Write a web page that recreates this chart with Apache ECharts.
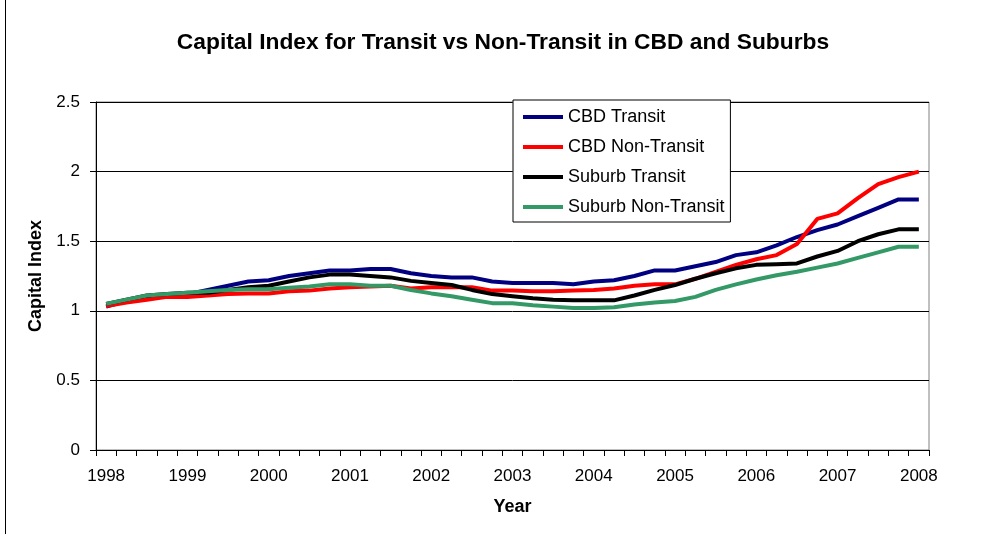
<!DOCTYPE html>
<html>
<head>
<meta charset="utf-8">
<script src="https://cdn.jsdelivr.net/npm/echarts@6/dist/echarts.min.js"></script>
<style>html,body{margin:0;padding:0;background:#fff}#chart{width:990px;height:534px}</style>
</head>
<body>
<div id="chart"></div>
<script>
const quarters = [
 '1998 Q1','1998 Q2','1998 Q3','1998 Q4','1999 Q1','1999 Q2','1999 Q3','1999 Q4',
 '2000 Q1','2000 Q2','2000 Q3','2000 Q4','2001 Q1','2001 Q2','2001 Q3','2001 Q4',
 '2002 Q1','2002 Q2','2002 Q3','2002 Q4','2003 Q1','2003 Q2','2003 Q3','2003 Q4',
 '2004 Q1','2004 Q2','2004 Q3','2004 Q4','2005 Q1','2005 Q2','2005 Q3','2005 Q4',
 '2006 Q1','2006 Q2','2006 Q3','2006 Q4','2007 Q1','2007 Q2','2007 Q3','2007 Q4',
 '2008 Q1'
];
const cbdTransit = [1.03,1.07,1.10,1.11,1.12,1.15,1.18,1.21,1.22,1.25,1.27,1.29,1.29,1.30,1.30,1.27,1.25,1.24,1.24,1.21,1.20,1.20,1.20,1.19,1.21,1.22,1.25,1.29,1.29,1.32,1.35,1.40,1.42,1.47,1.53,1.58,1.62,1.68,1.74,1.80,1.80];
const cbdNonTransit = [1.035,1.06,1.08,1.10,1.10,1.11,1.12,1.125,1.125,1.14,1.145,1.16,1.17,1.175,1.18,1.16,1.17,1.17,1.17,1.145,1.145,1.14,1.14,1.145,1.15,1.16,1.18,1.19,1.19,1.23,1.28,1.33,1.37,1.40,1.48,1.66,1.70,1.81,1.91,1.96,2.00];
const suburbTransit = [1.05,1.08,1.11,1.12,1.13,1.13,1.15,1.17,1.18,1.21,1.24,1.26,1.26,1.25,1.24,1.215,1.20,1.185,1.15,1.12,1.105,1.09,1.08,1.075,1.075,1.075,1.11,1.15,1.185,1.23,1.27,1.305,1.33,1.335,1.34,1.39,1.43,1.50,1.55,1.585,1.585];
const suburbNonTransit = [1.05,1.08,1.11,1.12,1.13,1.14,1.15,1.155,1.155,1.165,1.175,1.19,1.19,1.18,1.18,1.15,1.125,1.105,1.08,1.055,1.055,1.04,1.03,1.02,1.02,1.025,1.045,1.06,1.07,1.10,1.15,1.19,1.225,1.255,1.28,1.31,1.34,1.38,1.42,1.46,1.46];
const seriesNames = ['CBD Transit','CBD Non-Transit','Suburb Transit','Suburb Non-Transit'];
const seriesColors = ['#000080','#FF0000','#000000','#339966'];
const yTicks = {min: 0, max: 2.5, step: 0.5};

const FONT = "Arial, 'Liberation Sans', sans-serif";
const data = [cbdTransit, cbdNonTransit, suburbTransit, suburbNonTransit];

const chart = echarts.init(document.getElementById('chart'), null, {renderer: 'canvas'});
chart.setOption({
  animation: false,
  backgroundColor: '#fff',
  title: {
    text: 'Capital Index for Transit vs Non-Transit in CBD and Suburbs',
    left: 498, textAlign: 'center', top: 26,
    textStyle: {fontFamily: FONT, fontSize: 22.8, fontWeight: 'bold', color: '#000'}
  },
  legend: {
    orient: 'vertical', left: 513, top: 100,
    padding: [8, 6, 6, 8],
    itemWidth: 40, itemHeight: 14, itemGap: 12,
    backgroundColor: '#fff', borderColor: '#000', borderWidth: 1,
    itemStyle: {opacity: 0},
    lineStyle: {width: 4},
    textStyle: {fontFamily: FONT, fontSize: 18, color: '#000'},
    data: seriesNames
  },
  graphic: [{
    type: 'line', shape: {x1: 5.5, y1: 0, x2: 5.5, y2: 534},
    style: {stroke: '#000', lineWidth: 1}
  }],
  grid: {left: 96, right: 61, top: 102, bottom: 84, show: true, borderColor: '#808080', borderWidth: 1, backgroundColor: 'transparent'},
  xAxis: {
    type: 'category', data: quarters, boundaryGap: true,
    name: 'Year', nameLocation: 'middle', nameGap: 48,
    nameTextStyle: {fontFamily: FONT, fontSize: 18, fontWeight: 'bold', color: '#000'},
    axisLine: {lineStyle: {color: '#000', width: 1}},
    axisTick: {show: true, interval: 0, length: 6, lineStyle: {color: '#000'}},
    axisLabel: {interval: 3, margin: 18, fontFamily: FONT, fontSize: 17, color: '#000',
      formatter: v => v.slice(0, 4)},
    splitLine: {show: false}
  },
  yAxis: {
    type: 'value', min: yTicks.min, max: yTicks.max, interval: yTicks.step,
    name: 'Capital Index', nameLocation: 'middle', nameGap: 50, nameRotate: 90,
    nameTextStyle: {fontFamily: FONT, fontSize: 18, fontWeight: 'bold', color: '#000'},
    axisLine: {show: true, lineStyle: {color: '#000', width: 1}},
    axisTick: {show: true, length: 6, lineStyle: {color: '#000'}},
    axisLabel: {margin: 16, fontFamily: FONT, fontSize: 17, color: '#000'},
    splitLine: {show: true, lineStyle: {color: '#000', width: 1}}
  },
  series: seriesNames.map((n, i) => ({
    name: n, type: 'line', data: data[i], symbol: 'none', smooth: false,
    color: seriesColors[i],
    lineStyle: {color: seriesColors[i], width: 4},
    z: 2 + i
  }))
});
</script>
</body>
</html>
